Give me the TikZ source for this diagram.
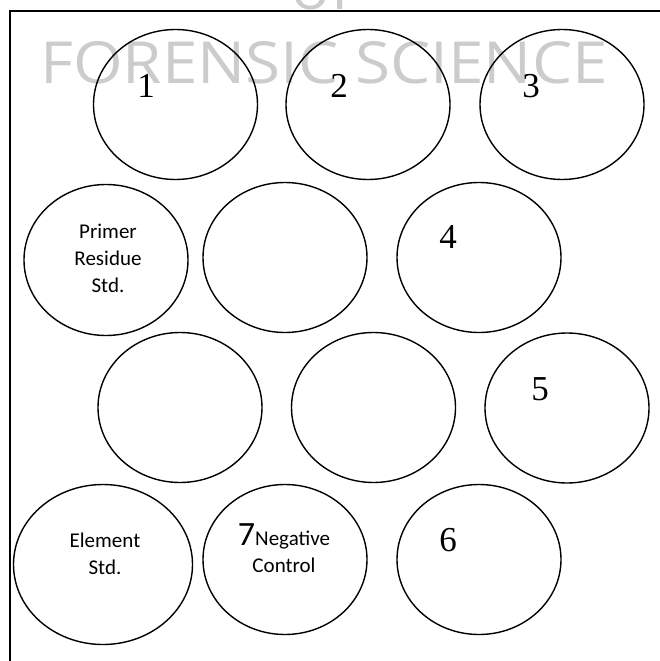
\documentclass[tikz,border=0pt]{standalone}
\usepackage{fontspec}
\setmainfont{Liberation Serif}
\newfontfamily\calfont{Carlito}
\newfontfamily\wmfont{Open Sans}
\usetikzlibrary{shapes.geometric, calc}

\begin{document}
\begin{tikzpicture}[x=1pt, y=-1pt,
  well/.style={draw, ellipse, line width=1.4pt, inner sep=0pt, minimum width=164pt, minimum height=150pt},
  num/.style={anchor=base, font=\fontsize{35}{35}\selectfont},
  lbl/.style={align=center, font=\calfont\fontsize{21}{27}\selectfont},
  wm/.style={anchor=base, text=black!20, xscale=1.1, font=\wmfont\fontsize{58}{58}\selectfont}]
  \useasboundingbox (0,0) rectangle (660,661);
  \clip (0,0) rectangle (660,661);
  % watermark
  \node[wm] (of) at (322,10) {of};
  \node[wm] (title) at (324,83) {FORENSIC SCIENCE};
  % frame
  \draw[line width=1.4pt] (10,661) -- (10,11) -- (660,11);
  % wells
  \node[well] (c1) at (175.5,104.5) {};
  \node[well] (c2) at (368,104.5) {};
  \node[well] (c3) at (562,104.5) {};
  \node[well, minimum height=151pt] (primer) at (106,260) {};
  \node[well] (b1) at (285,257.5) {};
  \node[well] (c4) at (479,257.5) {};
  \node[well] (b2) at (180,407.5) {};
  \node[well] (b3) at (373.5,407.5) {};
  \node[well] (c5) at (567,408) {};
  \node[well, minimum width=179pt, minimum height=160pt] (element) at (103,564.5) {};
  \node[well] (neg) at (285,559.5) {};
  \node[well] (c6) at (479,559.5) {};
  % labels
  \node[num] (n1) at ($(c1)+(-29.5,-7.5)$) {1};
  \node[num] (n2) at ($(c2)+(-29,-7.5)$) {2};
  \node[num] (n3) at ($(c3)+(-31,-7.5)$) {3};
  \node[num] (n4) at ($(c4)+(-31,-9.5)$) {4};
  \node[num] (n5) at ($(c5)+(-27,-8)$) {5};
  \node[num] (n6) at ($(c6)+(-31,-8.5)$) {6};
  \node[lbl] (primertxt) at ($(primer)+(2,-1.5)$) {Primer\\Residue\\Std.};
  \node[lbl] (elementtxt) at ($(element)+(2,-10.5)$) {Element\\Std.};
  \node[lbl] (negtxt) at ($(neg)+(-1,-11)$) {{\fontsize{34}{34}\selectfont 7}Negative\\Control};
\end{tikzpicture}
\end{document}
